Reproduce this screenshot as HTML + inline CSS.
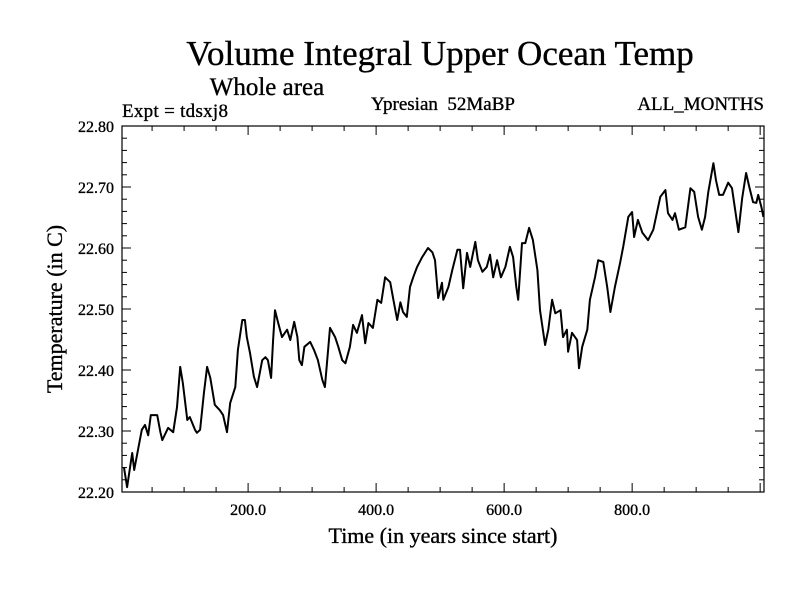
<!DOCTYPE html>
<html><head><meta charset="utf-8"><style>
body{margin:0;background:#fff;}
svg{display:block;font-family:"Liberation Serif",serif;}
svg text{stroke:#000;stroke-width:0.35px;}
</style></head><body>
<svg id="chart" width="800" height="600">
<rect x="0" y="0" width="800" height="600" fill="#fff"/>
<text x="440" y="65" font-size="35" text-anchor="middle">Volume Integral Upper Ocean Temp</text>
<text x="267" y="95" font-size="25" text-anchor="middle">Whole area</text>
<text x="122" y="117" font-size="19" textLength="106">Expt = tdsxj8</text>
<text x="443" y="110" font-size="19" text-anchor="middle" xml:space="preserve">Ypresian  52MaBP</text>
<text x="764" y="110" font-size="19" text-anchor="end">ALL_MONTHS</text>
<text x="443" y="543" font-size="22" text-anchor="middle">Time (in years since start)</text>
<text transform="translate(62,309) rotate(-90)" font-size="22" text-anchor="middle">Temperature (in C)</text>
<g id="axes"></g>
<path id="series" fill="none" stroke="#000" stroke-width="2" stroke-linejoin="round"/>
<rect x="122" y="126" width="642" height="366" fill="none" stroke="#000" stroke-width="1.2"/>
</svg>
<script>
const years=[6,11,19,22,27,34,39,44,48,58,63,66,75,83,89,94,98,105,109,117,120,125,131,136,141,148,156,161,167,172,180,184,191,195,198,203,209,214,222,227,231,236,239,242,247,253,261,266,272,277,280,284,288,297,303,309,316,320,328,336,341,347,352,359,364,370,378,383,388,395,402,408,414,422,427,433,438,442,448,453,458,464,472,481,488,492,497,503,505,513,519,527,531,536,542,547,555,559,566,573,578,583,589,595,602,609,614,619,622,628,633,639,645,652,656,664,669,675,680,688,692,698,700,706,714,717,722,730,734,742,747,755,761,766,773,781,786,794,800,803,809,816,825,833,844,852,856,863,867,873,883,891,897,903,909,914,919,927,931,936,942,950,956,961,966,972,978,983,989,994,997,1002,1005];
const temps=[22.241,22.208,22.264,22.236,22.264,22.302,22.310,22.293,22.326,22.326,22.298,22.285,22.305,22.298,22.339,22.405,22.379,22.318,22.323,22.302,22.297,22.302,22.362,22.405,22.387,22.343,22.334,22.326,22.298,22.346,22.372,22.433,22.482,22.482,22.454,22.428,22.389,22.372,22.416,22.421,22.416,22.387,22.449,22.498,22.477,22.454,22.466,22.449,22.479,22.454,22.416,22.408,22.438,22.446,22.433,22.416,22.384,22.372,22.469,22.454,22.438,22.416,22.411,22.438,22.474,22.461,22.490,22.444,22.477,22.469,22.515,22.510,22.552,22.544,22.515,22.482,22.511,22.495,22.487,22.536,22.552,22.569,22.585,22.600,22.593,22.580,22.518,22.543,22.515,22.536,22.564,22.597,22.597,22.534,22.592,22.569,22.610,22.580,22.561,22.569,22.589,22.552,22.580,22.552,22.569,22.602,22.585,22.536,22.515,22.608,22.608,22.633,22.613,22.564,22.498,22.441,22.466,22.515,22.493,22.498,22.454,22.466,22.430,22.461,22.449,22.403,22.438,22.466,22.515,22.552,22.580,22.577,22.536,22.495,22.536,22.575,22.602,22.651,22.659,22.618,22.646,22.625,22.613,22.630,22.684,22.695,22.657,22.646,22.657,22.630,22.634,22.698,22.692,22.651,22.630,22.651,22.692,22.739,22.711,22.687,22.687,22.707,22.698,22.662,22.626,22.682,22.723,22.700,22.675,22.674,22.687,22.667,22.651];
const xTickValues=[200,400,600,800];
const xTickLabels=["200.0","400.0","600.0","800.0"];
const yTickValues=[22.2,22.3,22.4,22.5,22.6,22.7,22.8];
const yTickLabels=["22.20","22.30","22.40","22.50","22.60","22.70","22.80"];
const X0=122,X1=764,Y0=492,Y1=126,XMIN=3,XMAX=1006,YMIN=22.2,YMAX=22.8;
function xs(v){return X0+(v-XMIN)/(XMAX-XMIN)*(X1-X0);}
function ys(v){return Y0-(v-YMIN)/(YMAX-YMIN)*(Y0-Y1);}
const NS="http://www.w3.org/2000/svg";
const axes=document.getElementById('axes');
function line(x1,y1,x2,y2,name){const l=document.createElementNS(NS,'line');l.setAttribute('x1',x1);l.setAttribute('y1',y1);l.setAttribute('x2',x2);l.setAttribute('y2',y2);l.setAttribute('stroke','#000');l.setAttribute('stroke-width','1');


axes.appendChild(l);}
function text(x,y,s,anchor,name){const t=document.createElementNS(NS,'text');t.setAttribute('x',x);t.setAttribute('y',y);t.setAttribute('font-size','16');t.setAttribute('text-anchor',anchor);t.textContent=s;


axes.appendChild(t);}
for(let v=50;v<XMAX;v+=50){const x=xs(v);const major=v%200===0;const L=major?9:5;line(x,Y0,x,Y0-L,'x-tick');line(x,Y1,x,Y1+L,'x-tick-top');}
for(let k=0;k<=30;k++){const v=YMIN+k*0.02;const y=ys(v);const major=k%5===0;const L=major?9:5;line(X0,y,X0+L,y,'y-tick');line(X1,y,X1-L,y,'y-tick-right');}
xTickValues.forEach((v,i)=>text(xs(v),Y0+23,xTickLabels[i],'middle','x-tick-label'));
yTickValues.forEach((v,i)=>text(X0-8,ys(v)+6,yTickLabels[i],'end','y-tick-label'));
let d='';years.forEach((yr,i)=>{d+=(i?'L':'M')+xs(yr).toFixed(1)+' '+ys(temps[i]).toFixed(1);});
document.getElementById('series').setAttribute('d',d);
</script>
</body></html>
